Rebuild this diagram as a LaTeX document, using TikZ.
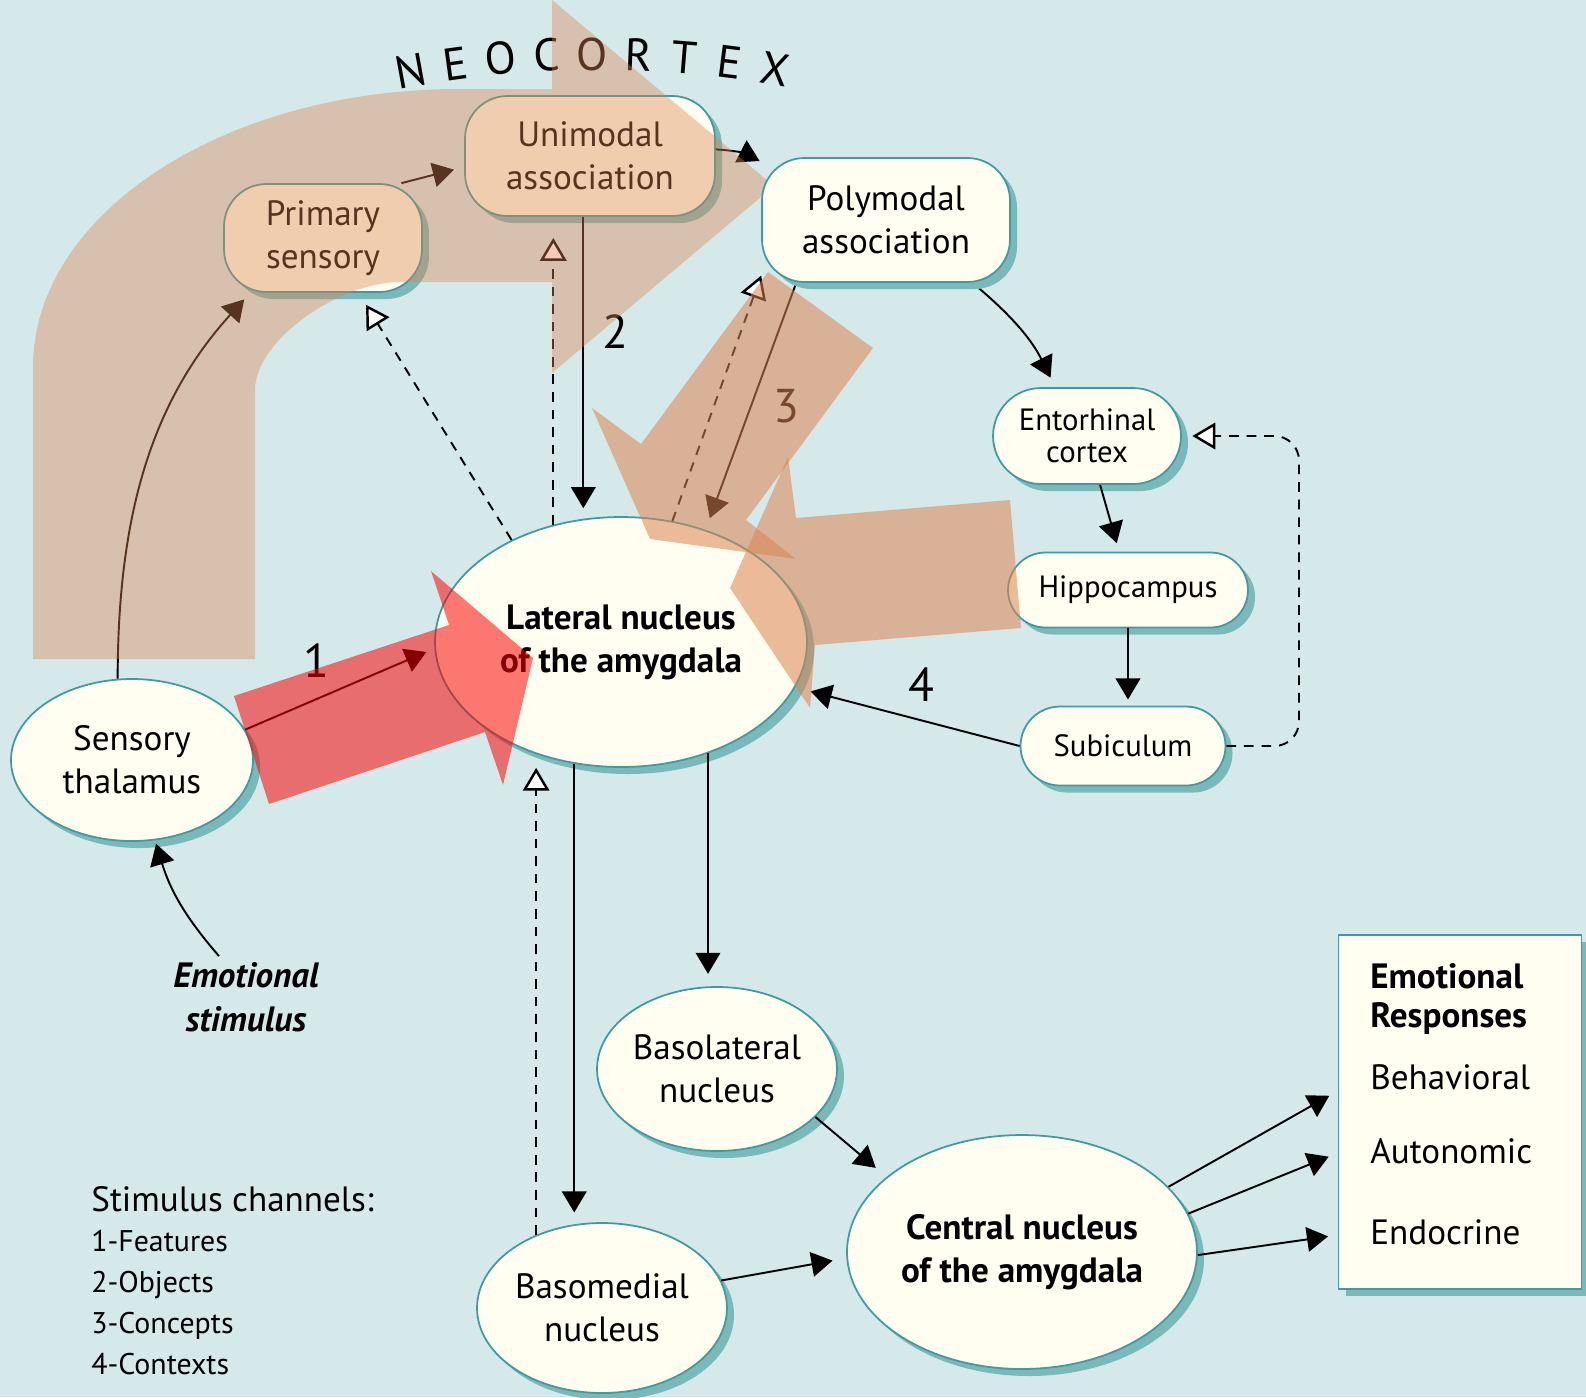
\documentclass[tikz,border=0pt]{standalone}
\usepackage{fontspec}
\setmainfont{PT Sans}
\usetikzlibrary{arrows.meta}
\usetikzlibrary{shapes.geometric, shapes.misc}
\usetikzlibrary{shadows}
\usetikzlibrary{calc}

\definecolor{bgblue}{RGB}{213,233,234}
\definecolor{cream}{RGB}{255,254,240}
\definecolor{tealline}{RGB}{64,154,158}
\definecolor{tealshadow}{RGB}{122,184,186}
\definecolor{cortex}{RGB}{220,132,82}
\definecolor{featred}{RGB}{250,0,0}

\pgfdeclarelayer{front}
\pgfsetlayers{main,front}

\newcommand{\bigtext}{\fontsize{20}{24.5}\selectfont}
\newcommand{\smalltext}{\fontsize{17.5}{18.5}\selectfont}

\begin{document}
\begin{tikzpicture}[x=0.02cm, y=-0.02cm,
    nshadow/.style={drop shadow={shadow xshift=4pt, shadow yshift=-4pt, fill=tealshadow, opacity=1}},
    nucleus/.style={ellipse, draw=tealline, line width=1pt, fill=cream, inner sep=0pt, align=center, font=\bigtext, nshadow},
    cortexbox/.style={rectangle, rounded corners=0.85cm, draw=tealline, line width=1pt, fill=cream, inner sep=0pt, align=center, font=\bigtext, nshadow},
    relaybox/.style={rounded rectangle, draw=tealline, line width=1pt, fill=cream, inner sep=0pt, align=center, font=\smalltext, nshadow},
    conn/.style={line width=1.1pt, -{Triangle[length=12pt, width=14pt]}},
    feedback/.style={line width=1.1pt, dash pattern=on 5.5pt off 4.5pt, -{Triangle[open, length=13pt, width=15pt, line width=1.4pt, fill=white]}},
    num/.style={font=\fontsize{27}{27}\selectfont, inner sep=0pt},
  ]
  \useasboundingbox (0,0) rectangle (1586,1397);
  \fill[bgblue] (0,0) rectangle (1586,1397);

  % cortical areas
  \node[cortexbox, minimum width=3.96cm, minimum height=2.16cm] (prim) at (323,238) {Primary\\sensory};
  \node[cortexbox, minimum width=5cm, minimum height=2.4cm] (uni) at (590,156) {Unimodal\\association};
  \begin{pgfonlayer}{front}
  \node[cortexbox, minimum width=4.96cm, minimum height=2.48cm] (poly) at (886,220) {Polymodal\\association};
  \end{pgfonlayer}

  % hippocampal loop
  \node[relaybox, minimum width=3.76cm, minimum height=1.92cm] (ento) at (1087,436) {Entorhinal\\cortex};
  \node[relaybox, minimum width=4.8cm, minimum height=1.5cm] (hippo) at (1128,590) {Hippocampus};
  \node[relaybox, minimum width=4.1cm, minimum height=1.58cm] (subi) at (1123,746) {Subiculum};

  % nuclei
  \node[nucleus, minimum width=4.84cm, minimum height=3.24cm] (thal) at (132,760) {Sensory\\thalamus};
  \node[nucleus, font=\bfseries\bigtext, minimum width=7.44cm, minimum height=5cm] (lat) at (621,642) {Lateral nucleus\\of the amygdala};
  \node[nucleus, minimum width=4.8cm, minimum height=3.28cm] (basol) at (717,1069) {Basolateral\\nucleus};
  \node[nucleus, minimum width=5cm, minimum height=3.4cm] (basom) at (602,1308) {Basomedial\\nucleus};
  \node[nucleus, font=\bfseries\bigtext, minimum width=7cm, minimum height=4.68cm] (cent) at (1022,1252) {Central nucleus\\of the amygdala};

  % responses
  \node[rectangle, draw=tealline, line width=1pt, fill=cream, nshadow, minimum width=4.86cm, minimum height=7.08cm] (resp) at (1460,1112) {};
  \node[anchor=west, align=left, inner sep=0pt, font=\bfseries\fontsize{20}{22}\selectfont] (resphead) at (1370,999) {Emotional\\Responses};
  \node[anchor=west, inner sep=0pt, font=\bigtext] (beh) at (1370,1077) {Behavioral};
  \node[anchor=west, inner sep=0pt, font=\bigtext] (auto) at (1370,1151) {Autonomic};
  \node[anchor=west, inner sep=0pt, font=\bigtext] (endo) at (1370,1232) {Endocrine};

  % stimulus and legend
  \node[align=center, font=\bfseries\itshape\fontsize{20}{25}\selectfont] (stim) at (246,997) {Emotional\\stimulus};
  \node[anchor=base west, inner sep=0pt, font=\bigtext] (chan) at (91,1211) {Stimulus channels:};
  \foreach \lbl [count=\i] in {1-Features, 2-Objects, 3-Concepts, 4-Contexts}
    \node[anchor=base west, inner sep=0pt, font=\fontsize{17}{17}\selectfont] (chan\i) at (91,{1210+41*\i}) {\lbl};

  % neocortex title
  \foreach \ch [count=\i] in {N,E,O,C,O,R,T,E,X} {
    \pgfmathsetmacro{\ang}{-10.3+2.5*(\i-1)}
    \node[font=\fontsize{26}{26}\selectfont, inner sep=0pt, rotate=-\ang] (neo\i) at ({598+1050*sin(\ang)},{1104-1050*cos(\ang)}) {\ch};
  }

  % channel numbers
  \node[num] (n1) at (316,661) {1};
  \node[num] (n2) at (615,332) {2};
  \node[num] (n3) at (786,406) {3};
  \node[num] (n4) at (921,685) {4};

  % cortical pathway
  \draw[conn, shorten >=5pt] (thal.100) .. controls +(0,-160) and +(-100,110) .. (prim.217);
  \draw[conn, shorten >=6pt] (prim.35) -- (uni.185);
  \draw[conn, shorten >=1pt] (uni.3) to[bend left=12] (poly.155);
  \draw[conn, shorten >=6pt] (lat.107 |- uni.south) -- (lat.107);
  \draw[feedback, shorten >=12pt] (lat.120) -- (lat.120 |- uni.south);
  \draw[feedback, shorten >=8pt] (lat.137) -- (prim.-57);
  \draw[conn, shorten >=7pt] (poly.215) -- (lat.53);
  \draw[feedback] (lat.67) -- (poly.204);
  \draw[conn, shorten >=5pt] (thal.15) -- (lat.182);

  % hippocampal pathway
  \draw[conn, shorten >=6pt] (poly.-36) to[bend left=12] (ento.123);
  \draw[conn, shorten >=5pt] (ento.-75) -- (hippo.103);
  \draw[conn, shorten >=3.5pt] (hippo.south) -- (hippo.south |- subi.north);
  \draw[conn, shorten >=9pt] (subi.west) -- (lat);
  \draw[feedback, rounded corners=14pt, shorten >=6pt] (subi.east) -- (1299,0 |- subi.east) -- (1299,0 |- ento.east) -- (ento.east);

  % amygdala outputs
  \draw[conn, shorten >=7pt] (lat.-52) -- (lat.-52 |- basol.north);
  \draw[conn, shorten >=5.5pt] (lat.249) -- (lat.249 |- basom.north);
  \draw[feedback] (basom.132) -- (basom.132 |- lat.south);
  \draw[conn, shorten >=2pt] (stim.north) ++(-27,0) to[bend left=12] (thal.-74);
  \draw[conn, shorten >=8pt] (basol.-26) -- (cent.151);
  \draw[conn, shorten >=8pt] (basom.13) -- (cent.182);
  \draw[conn, shorten >=5.5pt] (cent.24) -- (resp.west |- 0,1091);
  \draw[conn, shorten >=5.5pt] (cent.13) -- (resp.west |- 0,1153);
  \draw[conn, shorten >=5.5pt] (cent.-1) -- (resp.west |- 0,1235);

  % neocortex stream
  \fill[cortex, fill opacity=0.4] (33,659) -- (33,367) .. controls (33,214) and (224,89) .. (459,89)
    -- (552,89) -- (552,0) -- (774,186) -- (552,373) -- (552,282) -- (400,282)
    .. controls (340,282) and (255,340) .. (255,390) -- (255,659) -- cycle;
  % concepts and contexts
  \fill[cortex, fill opacity=0.55] (768,272) -- (873,348) -- (746,520) -- (796,559) -- (650,539) -- (592,408) -- (641,444) -- cycle;
  \fill[cortex, fill opacity=0.55] (1010,500) -- (1021,628) -- (815,645) -- (810,708) -- (730,588) -- (788,457) -- (796,518) -- cycle;
  % features
  \fill[featred, fill opacity=0.53] (234,696) -- (449,625) -- (431,571) -- (533,658) -- (503,785) -- (485,732) -- (269,804) -- cycle;
\end{tikzpicture}
\end{document}
